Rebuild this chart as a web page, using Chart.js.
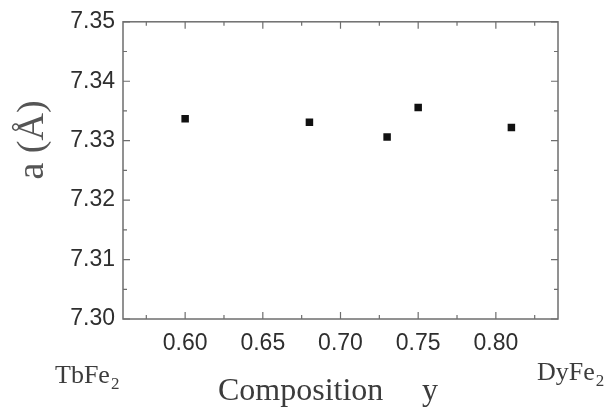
<!DOCTYPE html>
<html>
<head>
<meta charset="utf-8">
<script src="https://cdn.jsdelivr.net/npm/chart.js@4"></script>
<style>
  html, body { margin: 0; padding: 0; background: #fff; }
  canvas { display: block; }
</style>
</head>
<body>
<canvas id="chart" width="607" height="410"></canvas>
<script>
// 组分 y
const compositions = [0.60, 0.68, 0.73, 0.75, 0.81];
// 晶格常数 a (Å)
const latticeA = [7.3337, 7.3331, 7.3306, 7.3356, 7.3322];

// 坐标轴范围和刻度
const xRange = [0.56, 0.84];
const yRange = [7.30, 7.35];
const xTicks = [0.60, 0.65, 0.70, 0.75, 0.80];
const xMinorTicks = [0.575, 0.625, 0.675, 0.725, 0.775, 0.825];
const yTicks = [7.30, 7.31, 7.32, 7.33, 7.34, 7.35];
const yMinorTicks = [7.305, 7.315, 7.325, 7.335, 7.345];

// 标题文字
const yTitle = 'a (Å)';
const xTitle = 'Composition';
const xVar = 'y';
const leftEnd = ['TbFe', '2'];
const rightEnd = ['DyFe', '2'];

const SERIF = '"Liberation Serif", "Times New Roman", serif';
const SANS = '"Liberation Sans", Arial, sans-serif';

// 边框 + 向内的刻度线
const framePlugin = {
  id: 'frame',
  afterDatasetsDraw(chart) {
    const { ctx, chartArea: a, scales: { x, y } } = chart;
    ctx.save();
    ctx.strokeStyle = '#6e6e6e';
    ctx.lineWidth = 1.5;
    ctx.strokeRect(a.left, a.top, a.right - a.left, a.bottom - a.top);

    ctx.lineWidth = 1.2;
    ctx.beginPath();
    const markX = (v, len) => {
      const px = x.getPixelForValue(v);
      ctx.moveTo(px, a.bottom); ctx.lineTo(px, a.bottom - len);
      ctx.moveTo(px, a.top); ctx.lineTo(px, a.top + len);
    };
    const markY = (v, len) => {
      const py = y.getPixelForValue(v);
      ctx.moveTo(a.left, py); ctx.lineTo(a.left + len, py);
      ctx.moveTo(a.right, py); ctx.lineTo(a.right - len, py);
    };
    xTicks.forEach(v => markX(v, 7));
    xMinorTicks.forEach(v => markX(v, 4));
    yTicks.forEach(v => markY(v, 7));
    yMinorTicks.forEach(v => markY(v, 4));
    ctx.stroke();
    ctx.restore();
  }
};

// 带下标的化学式
function drawFormula(ctx, parts, left, base) {
  ctx.font = '26px ' + SERIF;
  ctx.fillText(parts[0], left, base);
  const w = ctx.measureText(parts[0]).width;
  ctx.font = '17px ' + SERIF;
  ctx.fillText(parts[1], left + w + 1, base + 6);
}

// 轴标题
const titlePlugin = {
  id: 'titles',
  afterDraw(chart) {
    const ctx = chart.ctx;
    ctx.save();
    ctx.textBaseline = 'alphabetic';

    // 纵轴标题
    ctx.save();
    ctx.fillStyle = '#555';
    ctx.translate(43, 140);
    ctx.rotate(-Math.PI / 2);
    ctx.textAlign = 'center';
    ctx.font = '38px ' + SERIF;
    ctx.fillText(yTitle, 0, 0);
    ctx.restore();

    // 横轴标题
    ctx.fillStyle = '#3c3c3c';
    ctx.textAlign = 'left';
    ctx.font = '32px ' + SERIF;
    ctx.fillText(xTitle, 218, 400);
    ctx.fillText(xVar, 422, 400);

    drawFormula(ctx, leftEnd, 55, 383);
    drawFormula(ctx, rightEnd, 537, 380);
    ctx.restore();
  }
};

const ctx = document.getElementById('chart').getContext('2d');
new Chart(ctx, {
  type: 'scatter',
  data: {
    datasets: [{
      data: compositions.map((c, i) => ({ x: c, y: latticeA[i] })),
      pointStyle: 'rect',
      pointRadius: 5.3,
      pointBackgroundColor: '#111',
      pointBorderColor: '#111',
      pointBorderWidth: 0
    }]
  },
  options: {
    responsive: false,
    animation: false,
    devicePixelRatio: 1,
    layout: { padding: { top: 15, right: 49, left: 0, bottom: 0 } },
    plugins: {
      legend: { display: false },
      tooltip: { enabled: false }
    },
    scales: {
      x: {
        type: 'linear',
        min: xRange[0],
        max: xRange[1],
        afterBuildTicks: s => { s.ticks = xTicks.map(v => ({ value: v })); },
        afterFit: s => { s.height = 91; },
        grid: { display: false, drawTicks: false },
        border: { display: false },
        ticks: {
          padding: 11,
          color: '#2e2e2e',
          font: { family: SANS, size: 23 },
          maxRotation: 0,
          callback: v => Number(v).toFixed(2)
        }
      },
      y: {
        type: 'linear',
        min: yRange[0],
        max: yRange[1],
        afterBuildTicks: s => { s.ticks = yTicks.map(v => ({ value: v })); },
        afterFit: s => { s.width = 123; },
        grid: { display: false, drawTicks: false },
        border: { display: false },
        ticks: {
          padding: 8,
          color: '#2e2e2e',
          font: { family: SANS, size: 23 },
          callback: v => Number(v).toFixed(2)
        }
      }
    }
  },
  plugins: [framePlugin, titlePlugin]
});
</script>
</body>
</html>
